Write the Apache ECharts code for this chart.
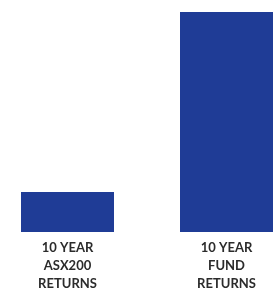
<!DOCTYPE html>
<html>
<head>
<meta charset="utf-8">
<script src="https://cdn.jsdelivr.net/npm/echarts@6/dist/echarts.min.js"></script>
<style>
  html, body { margin: 0; padding: 0; background: #fff; }
  #main { width: 273px; height: 297px; }
</style>
</head>
<body>
<div id="main"></div>
<script>
// two bars, values (relative heights)
let categories = ['10 YEAR\nASX200\nRETURNS', '10 YEAR\nFUND\nRETURNS'];
let returns = [40, 220];

let myChart = echarts.init(document.getElementById('main'));
myChart.setOption({
    animation: false,
    grid: {
        left: -12,
        width: 318,
        top: 12,
        bottom: 65,
        outerBoundsMode: 'none'
    },
    xAxis: {
        type: 'category',
        data: categories,
        axisLine: { show: false },
        axisTick: { show: false },
        axisLabel: {
            interval: 0,
            margin: 7,
            fontFamily: 'Lato',
            fontWeight: 'bold',
            fontSize: 13,
            lineHeight: 18,
            color: '#2b2b2b'
        }
    },
    yAxis: {
        type: 'value',
        min: 0,
        max: 220,
        show: false,
        splitLine: { show: false }
    },
    series: [{
        type: 'bar',
        data: returns,
        barWidth: 93,
        itemStyle: { color: '#1f3c96' }
    }]
});
</script>
</body>
</html>
